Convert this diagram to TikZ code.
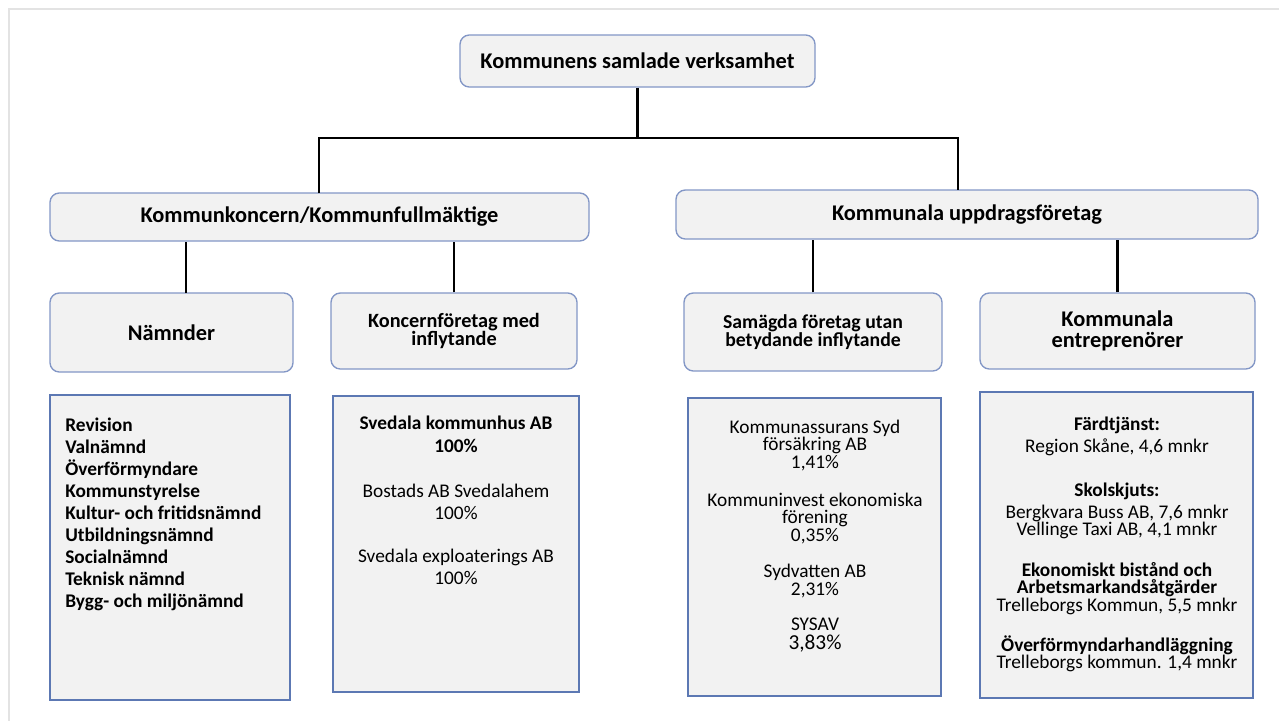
\documentclass[tikz,border=0pt]{standalone}
\usepackage{fontspec}
\setmainfont{Carlito}
\definecolor{boxfill}{HTML}{F2F2F2}
\definecolor{headline}{HTML}{8397C6}
\definecolor{listline}{HTML}{5C78B3}
\definecolor{frameline}{HTML}{E3E3E3}
\tikzset{
  head/.style={rectangle,draw=headline,fill=boxfill,rounded corners=7pt,line width=1pt,align=center,inner sep=2pt},
  list/.style={rectangle,draw=listline,fill=boxfill,line width=1.2pt,inner sep=0pt},
  txt/.style={align=center,inner sep=0pt},
  line/.style={line width=1.7pt},
  big/.style={font=\fontsize{16.8}{15.8}\selectfont\bfseries},
  mid/.style={font=\fontsize{15.2}{13.5}\selectfont\bfseries},
  small/.style={font=\fontsize{14.5}{13.1}\selectfont}
}

\begin{document}
\begin{tikzpicture}[x=0.75pt,y=-0.75pt]
\useasboundingbox (0,0) rectangle (1279,721);
\draw[frameline,line width=1.5pt] (9,721) -- (9,9) -- (1279,9);
% upper levels
\node[head, big, minimum width=266.25pt, minimum height=39pt] (top) at (637.5,61) {Kommunens samlade verksamhet};
\node[head, big, minimum width=404.25pt, minimum height=36pt] (kk) at (319.5,217) {Kommunkoncern/Kommunfullmäktige};
\node[head, big, minimum width=436.5pt, minimum height=36.75pt] (ku) at (967,214.5) {Kommunala uppdragsföretag};
\node[head, big, minimum width=182.25pt, minimum height=59.25pt] (nam) at (171.5,332.5) {Nämnder};
\node[head, mid, minimum width=184.5pt, minimum height=57pt] (kf) at (454,331) {Koncernföretag med\\inflytande};
\node[head, font=\fontsize{14.8}{13.5}\selectfont\bfseries, minimum width=193.5pt, minimum height=58.5pt] (sam) at (813,332) {Samägda företag utan\\betydande inflytande};
\node[head, big, minimum width=206.25pt, minimum height=57pt] (ent) at (1117.5,331) {Kommunala\\entreprenörer};
% connectors
\coordinate (j) at (637.5,138);
\coordinate (kktop) at (319,193);
\coordinate (kutop) at (958,190);
\coordinate (namtop) at (186,293);
\draw[line] (top) -- (j);
\draw[line] (kktop) |- (j) -| (kutop);
\draw[line] (namtop) -- (namtop |- kk.south);
\draw[line] (kf.north) -- (kf.north |- kk.south);
\draw[line] (sam.north) -- (sam.north |- ku.south);
\draw[line] (ent.north) -- (ent.north |- ku.south);
% lists
\node[list, minimum width=180pt, minimum height=228.75pt] (nl) at (170,547.5) {};
\node[list, minimum width=184.5pt, minimum height=222pt] (kl) at (456,544) {};
\node[list, minimum width=189.75pt, minimum height=223.5pt] (sl) at (814.5,547) {};
\node[list, minimum width=204.75pt, minimum height=229.5pt] (el) at (1116.5,545) {};
\node[txt, align=left, anchor=west, font=\fontsize{14.5}{16.5}\selectfont\bfseries] (nlt) at (65,514) {Revision\\Valnämnd\\Överförmyndare\\Kommunstyrelse\\Kultur- och fritidsnämnd\\Utbildningsnämnd\\Socialnämnd\\Teknisk nämnd\\Bygg- och miljönämnd};
\node[txt, font=\fontsize{14.5}{16.9}\selectfont] (k1) at (456,434.5) {\textbf{Svedala kommunhus AB}\\\textbf{100\%}};
\node[txt, font=\fontsize{14.5}{16.9}\selectfont] (k2) at (456,502) {Bostads AB Svedalahem\\100\%};
\node[txt, font=\fontsize{14.5}{16.9}\selectfont] (k3) at (456,567) {Svedala exploaterings AB\\100\%};
\node[txt, small] (s1) at (815,445.5) {Kommunassurans Syd\\försäkring AB\\1,41\%};
\node[txt, small] (s2) at (815,518.5) {Kommuninvest ekonomiska\\förening\\0,35\%};
\node[txt, small] (s3) at (815,581) {Sydvatten AB\\2,31\%};
\node[txt, small] (s4) at (815,635) {SYSAV\\[1.5pt]{\fontsize{16}{14}\selectfont 3,83\%}};
\node[txt, font=\fontsize{14.5}{16.5}\selectfont] (e1) at (1117,436) {\textbf{Färdtjänst:}\\Region Skåne, 4,6 mnkr};
\node[txt, small] (e2) at (1117,511) {\textbf{Skolskjuts:}\\[3pt]Bergkvara Buss AB, 7,6 mnkr\\Vellinge Taxi AB, 4,1 mnkr};
\node[txt, small] (e3) at (1117,588.5) {\textbf{Ekonomiskt bistånd och}\\\textbf{Arbetsmarkandsåtgärder}\\Trelleborgs Kommun, 5,5 mnkr};
\node[txt, small] (e4) at (1117,654) {\textbf{Överförmyndarhandläggning}\\Trelleborgs kommun. 1,4 mnkr};
\end{tikzpicture}
\end{document}
